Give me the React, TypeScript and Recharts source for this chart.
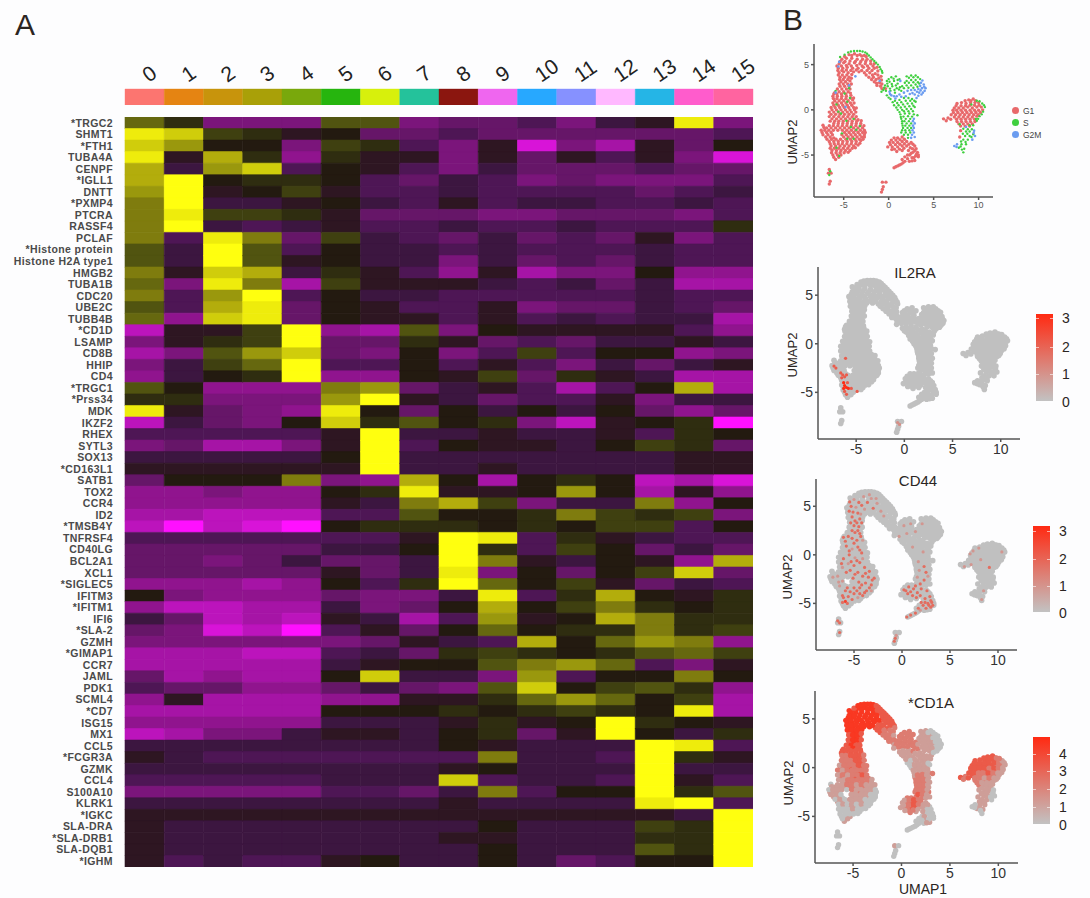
import * as React from 'react';
import { Bar, BarChart, Cell, Legend, Scatter, ScatterChart, XAxis, YAxis } from 'recharts';

const SANS = '"Liberation Sans", Arial, sans-serif';

// heatmap
const clusters = ['0', '1', '2', '3', '4', '5', '6', '7', '8', '9', '10', '11', '12', '13', '14', '15'];
const clusterColors = ['#fc7570', '#e58412', '#c8940c', '#a9a008', '#79a80c', '#26b50e', '#d7f00c', '#24c29b', '#8b160f', '#ef66ef', '#27a8ff', '#8691ff', '#ffb8ff', '#25b5e6', '#ff5ccc', '#ff64a0'];
const genes = ['*TRGC2', 'SHMT1', '*FTH1', 'TUBA4A', 'CENPF', '*IGLL1', 'DNTT', '*PXMP4', 'PTCRA', 'RASSF4', 'PCLAF', '*Histone protein', 'Histone H2A type1', 'HMGB2', 'TUBA1B', 'CDC20', 'UBE2C', 'TUBB4B', '*CD1D', 'LSAMP', 'CD8B', 'HHIP', 'CD4', '*TRGC1', '*Prss34', 'MDK', 'IKZF2', 'RHEX', 'SYTL3', 'SOX13', '*CD163L1', 'SATB1', 'TOX2', 'CCR4', 'ID2', '*TMSB4Y', 'TNFRSF4', 'CD40LG', 'BCL2A1', 'XCL1', '*SIGLEC5', 'IFITM3', '*IFITM1', 'IFI6', '*SLA-2', 'GZMH', '*GIMAP1', 'CCR7', 'JAML', 'PDK1', 'SCML4', '*CD7', 'ISG15', 'MX1', 'CCL5', '*FCGR3A', 'GZMK', 'CCL4', 'S100A10', 'KLRK1', '*IGKC', 'SLA-DRA', '*SLA-DRB1', 'SLA-DQB1', '*IGHM'];
// -10 (magenta) .. 0 (black) .. 10 (yellow)
const expression = [
  [4, 1, -5, -5, -5, 3, 3, -5, -4, -4, -3, -5, -2, -1, 9, -5],
  [9, 8, 2, 1, -1, 0, -4, -4, -3, -4, -4, -4, -4, -4, -4, -3],
  [8, 6, 0, 0, -5, 2, 1, -3, -5, -1, -9, -5, -7, -1, -4, 0],
  [9, -1, 7, 1, -6, 1, -1, -1, -5, -1, -4, -1, -3, -1, -5, -9],
  [7, -2, 6, 8, -3, 0, -1, -3, -5, -2, -4, -4, -4, -3, -4, -4],
  [7, 10, 0, 1, 1, 0, -3, -4, -2, -3, -5, -4, -5, -5, -5, -3],
  [6, 10, -1, 0, 2, -1, -3, -3, -2, -3, -3, -3, -3, -4, -3, -2],
  [5, 10, -2, -2, -1, 0, -2, -3, -1, -3, -2, -2, -3, -3, -2, -3],
  [5, 9, 2, 2, 1, -1, -4, -4, -4, -5, -5, -4, -4, -4, -5, -3],
  [5, 10, -2, -3, -2, -1, -3, -3, -2, -3, -3, -2, -3, -3, -3, 1],
  [5, -3, 9, 5, -4, 2, -2, -3, -4, -2, -4, -3, -4, -1, -5, -3],
  [3, -2, 10, 3, -3, 0, -2, -2, -3, -2, -3, -3, -3, -2, -3, -3],
  [3, -2, 10, 3, -1, 0, -2, -2, -5, -2, -4, -3, -4, -2, -3, -3],
  [5, -1, 8, 7, -2, 1, -1, -3, -6, -1, -7, -5, -5, 0, -6, -6],
  [4, -5, 9, 5, -7, 2, -1, -1, -1, -2, -3, -2, -4, -2, -7, -7],
  [5, -3, 6, 10, -3, 0, -2, -2, -3, -3, -3, -3, -3, -2, -3, -3],
  [3, -3, 7, 9, -4, 0, -1, -3, -3, -1, -5, -4, -4, -2, -3, -4],
  [4, -6, 8, 9, -4, 0, -1, -1, -3, -1, -3, -2, -3, -2, -2, -7],
  [-8, -1, -1, 2, 10, -6, -7, 3, -5, 0, -1, -1, -1, -1, -3, -6],
  [-5, -1, 1, 2, 10, -4, -4, 1, -1, -4, -3, -4, -2, -2, -1, -2],
  [-7, -5, 3, 6, 8, -4, -5, 0, -5, -3, 2, -3, 0, 0, -6, -5],
  [-5, -2, 2, 4, 10, -3, -3, 0, -3, -1, -3, -5, -2, -4, -2, -1],
  [-6, -2, 0, 1, 10, -6, -6, 0, -1, 2, -4, 1, -1, -2, -7, -7],
  [3, 0, -6, -6, -6, 5, 6, -4, -2, -1, -3, -7, -3, 0, 7, -7],
  [1, 1, -5, -5, -5, 6, 10, -1, -2, -4, -3, -3, -1, -5, -2, -2],
  [9, -1, -4, -5, -6, 9, 0, -4, 0, -2, 0, -2, 0, -4, -6, -4],
  [-8, -2, -4, -5, 0, 8, 1, 3, 0, 1, -5, -8, -1, 0, 1, -10],
  [-3, -3, -3, -3, -3, -1, 10, -2, -2, -1, -2, -2, -1, -3, 1, 0],
  [-5, -4, -7, -7, -5, -1, 10, -3, 0, -1, -1, -2, 0, 2, 1, -4],
  [-2, -2, -2, -2, -2, 0, 10, -2, -2, -2, -2, -2, -2, -2, -1, -1],
  [-1, -1, -1, -1, -1, -1, 10, -2, -2, -1, -2, -2, -2, -2, -1, -1],
  [-4, 0, 0, 0, 5, -5, -6, 7, 0, -7, 0, 1, 0, -8, -7, -9],
  [-6, -6, -5, -6, -6, 0, 1, 9, -1, -1, 0, 6, 0, -7, -1, -6],
  [-6, -6, -6, -6, -6, -1, -2, 5, 7, 2, -5, -2, -2, 5, -6, 0],
  [-7, -7, -8, -8, -8, -3, -3, 3, 0, 0, 1, 5, 2, 1, 2, -5],
  [-8, -10, -8, -9, -10, 0, 1, 1, 1, 0, 1, 0, 2, 2, -3, 0],
  [-3, -3, -3, -3, -3, -3, -3, -1, 10, 9, -3, 1, -1, -2, -3, -3],
  [-4, -4, -4, -4, -4, -2, -2, 0, 10, 1, -3, 2, 0, -4, -2, -4],
  [-4, -4, -5, -4, -2, -4, -4, -2, 10, 5, -1, -2, 0, -1, -6, 7],
  [-4, -4, -4, -4, -4, -1, -4, -2, 9, -5, 0, -4, 0, 2, 8, -4],
  [-6, -6, -6, -7, -6, 0, -3, 1, 10, 4, 0, 2, -1, -4, -2, -3],
  [0, -5, -6, -6, -6, -4, -5, -5, -2, 9, -3, 1, 7, 0, -1, 1],
  [-6, -8, -8, -7, -7, -2, -5, -4, 0, 7, 0, 2, 5, 1, 0, 1],
  [-2, -4, -8, -7, -8, -1, -2, -7, -3, 6, -1, 0, 7, 5, 1, 1],
  [-4, -5, -9, -8, -10, -3, -1, -4, 0, 4, 0, 1, 1, 5, 1, 2],
  [-5, -5, -5, -5, -5, -5, -4, -1, -2, -3, 7, 0, 4, 6, 5, -6],
  [-7, -7, -7, -8, -8, -3, -2, -4, 1, 2, 1, 0, 1, 3, 4, 2],
  [-7, -7, -7, -7, -7, -2, -1, 0, 0, 3, 5, 6, 4, -3, -5, -1],
  [-4, -7, -6, -7, -7, 0, 8, -2, -2, -5, 6, -3, 0, 0, 5, 0],
  [-3, -4, -4, -6, -6, -4, -2, -4, -5, 3, 8, 0, 2, 3, 1, -6],
  [-6, -1, -7, -7, -7, -6, -6, -1, -1, 1, 4, 6, 4, 0, 2, -7],
  [-7, -7, -7, -7, -7, 0, 0, 0, 1, 0, 1, 2, 1, 0, 9, -7],
  [-6, -6, -6, -6, -6, -2, -2, -2, -1, 1, -1, 0, 10, 1, 0, -1],
  [-8, -7, -5, -5, -2, -1, -1, -2, 0, 1, -4, -1, 10, 0, -2, 1],
  [-2, -2, -2, -2, -2, -2, -2, -2, 0, -1, -2, -2, -2, 10, 9, -3],
  [-1, -2, -3, -3, -3, -3, -3, -3, -3, 5, -2, -2, -3, 10, 1, -1],
  [-2, -2, -2, -2, -2, -2, -2, -2, -1, 0, -2, -2, -2, 10, -2, -2],
  [-3, -3, -3, -3, -3, -2, -2, -2, 8, -3, -2, -2, -3, 10, -1, -3],
  [-5, -5, -5, -5, -5, -3, -3, -4, -2, 5, -3, 0, 0, 10, 1, 3],
  [-2, -2, -2, -2, -2, -2, -2, -2, -1, -2, -2, -2, -2, 9, 10, -3],
  [-1, -1, -1, -1, -1, -1, -1, -1, -1, -1, -1, -1, -1, -1, -2, 10],
  [-1, -2, -2, -2, -2, -2, -2, -2, -2, 0, -2, -2, -2, 2, 1, 10],
  [-1, -2, -2, -2, -2, -2, -2, -2, -1, -1, -2, -2, -2, 1, 1, 10],
  [-1, -2, -2, -2, -2, -2, -2, -2, -2, 0, -2, -2, -2, 3, 1, 10],
  [-1, -3, -2, -3, -3, -1, 0, -2, -2, 0, -2, -4, -3, 0, 0, 10],
];
const magentaRamp = ['#231a10', '#2e1622', '#3c1640', '#4e1655', '#661668', '#7b157b', '#90148e', '#a614a6', '#bc14bc', '#d814d8', '#ff10ff'];
const yellowRamp = ['#231a10', '#2f2d10', '#3f4010', '#515410', '#66680f', '#7f7c0e', '#9a980d', '#b3ad0c', '#d0cd0b', '#eeec0c', '#ffff0f'];

// UMAP cells, grouped by region: [umap1, umap2, *CD1A level]
const arcBody = [[-4.4, 6.1, 4], [-3.8, 6.2, 4], [-3.2, 6.1, 4], [-2.7, 6, 4], [-5.2, 5.6, 4], [-4.7, 5.7, 4], [-4.1, 5.7, 4], [-3.5, 5.6, 4], [-2.9, 5.6, 4], [-2.4, 5.6, 3], [-5.5, 5.1, 4], [-5, 5.2, 4], [-4.4, 5.1, 4], [-3.8, 5.2, 4], [-3.2, 5.1, 4], [-2.6, 5.1, 4], [-2, 5.1, 3], [-5.6, 4.6, 4], [-5.1, 4.6, 4], [-4.6, 4.7, 4], [-4, 4.6, 4], [-3.4, 4.6, 4], [-2.8, 4.7, 4], [-2.2, 4.6, 3], [-1.6, 4.6, 3], [-5.5, 4.1, 4], [-5, 4.2, 4], [-4.5, 4.1, 4], [-3.9, 4.2, 4], [-3.3, 4.2, 4], [-2.7, 4.1, 3], [-2.1, 4.1, 3], [-1.5, 4, 3], [-5.4, 3.6, 3], [-4.9, 3.6, 4], [-4.4, 3.6, 4], [-2.2, 3.6, 3], [-1.7, 3.6, 2], [-1.1, 3.5, 2], [-5.3, 3.1, 3], [-4.8, 3.1, 4], [-4.3, 3.2, 3], [-1.6, 3.1, 2], [-1, 3, 2], [-5.4, 2.6, 3], [-4.9, 2.6, 4], [-4.4, 2.6, 3], [-0.9, 2.6, 2], [-1.3, 2.7, 2]];
const arcFill = [[-4.9, 5.9, 4], [-4.1, 6, 4], [-3.5, 6, 4], [-3, 5.95, 4], [-2.5, 5.9, 3], [-5.4, 5.35, 4], [-4.85, 5.35, 4], [-4.3, 5.4, 4], [-3.7, 5.35, 4], [-3.1, 5.35, 4], [-2.55, 5.35, 4], [-2, 5.4, 3], [-1.6, 5.1, 3], [-5.75, 4.85, 4], [-5.25, 4.85, 4], [-4.7, 4.9, 4], [-4.15, 4.85, 4], [-3.55, 4.9, 4], [-2.95, 4.85, 4], [-2.35, 4.85, 4], [-1.75, 4.85, 3], [-1.3, 4.7, 3], [-5.65, 4.35, 4], [-5.2, 4.35, 4], [-4.7, 4.4, 4], [-4.2, 4.35, 4], [-3.6, 4.4, 4], [-3, 4.35, 4], [-2.4, 4.35, 3], [-1.85, 4.35, 3], [-1.2, 4.3, 3], [-5.6, 3.85, 4], [-5.15, 3.85, 4], [-4.65, 3.85, 4], [-4.1, 3.9, 4], [-2.5, 3.85, 3], [-1.8, 3.85, 2], [-1.2, 3.85, 2], [-0.85, 3.7, 2], [-5.45, 3.35, 3], [-5.05, 3.35, 4], [-4.55, 3.35, 4], [-4.15, 3.5, 3], [-1.9, 3.35, 2], [-1.4, 3.35, 2], [-0.8, 3.3, 1], [-5.5, 2.85, 3], [-5.05, 2.85, 4], [-4.55, 2.85, 4], [-4.15, 2.85, 3], [-1.35, 2.95, 2], [-0.75, 2.85, 2], [-5.7, 2.3, 3], [-5.2, 2.3, 4], [-4.7, 2.3, 3], [-4.3, 2.3, 3], [-0.75, 2.35, 1], [-0.35, 2.35, 2]];
const arcRim = [[-5.4, 5.85, 4], [-4.9, 6.1, 3], [-4.5, 6.35, 4], [-4.2, 6.45, 4], [-3.85, 6.5, 4], [-3.5, 6.5, 4], [-3.2, 6.5, 4], [-2.9, 6.45, 4], [-2.6, 6.35, 3], [-2.4, 6.2, 3], [-2.2, 6, 3], [-2, 5.8, 3], [-1.8, 5.6, 3], [-1.6, 5.4, 3], [-1.4, 5.2, 3], [-1.2, 5, 3], [-1, 4.75, 3], [-0.9, 4.5, 3], [-0.75, 4.3, 3], [-0.7, 4.1, 2]];
const leftBody = [[-6, 1.9, 3], [-5.5, 2, 3], [-5, 2, 4], [-4.5, 2, 3], [-6.2, 1.5, 3], [-5.7, 1.5, 3], [-5.2, 1.5, 3], [-4.7, 1.5, 3], [-4.2, 1.6, 3], [-6, 1, 2], [-5.5, 1, 2], [-5, 1, 3], [-4.5, 1, 3], [-4, 1.1, 2], [-6.1, 0.5, 2], [-5.6, 0.5, 2], [-5.1, 0.5, 2], [-4.6, 0.5, 3], [-4.1, 0.5, 3], [-6.3, 0, 2], [-5.8, 0, 2], [-5.3, 0, 3], [-4.8, 0, 2], [-4.3, 0, 3], [-3.8, 0, 2], [-6.4, -0.5, 1], [-5.9, -0.5, 2], [-5.4, -0.5, 2], [-4.9, -0.5, 2], [-4.4, -0.5, 3], [-3.9, -0.5, 2], [-6.3, -1, 2], [-5.8, -1, 1], [-5.3, -1, 2], [-4.8, -1, 3], [-4.3, -1, 2], [-3.8, -1, 2], [-3.4, -1.1, 2], [-6.1, -1.5, 1], [-5.6, -1.5, 2], [-5.1, -1.5, 2], [-4.6, -1.5, 2], [-4.1, -1.5, 2], [-3.6, -1.5, 2], [-3.1, -1.5, 1], [-7.3, -1.7, 0], [-6.9, -2, 1], [-6.4, -2, 1], [-5.9, -2, 1], [-5.4, -2, 2], [-4.9, -2, 2], [-4.4, -2, 1], [-3.9, -2, 2], [-3.4, -2, 1], [-2.9, -2, 1], [-7.4, -2.5, 1], [-6.9, -2.5, 1], [-6.4, -2.5, 1], [-4.9, -2.5, 1], [-4.4, -2.5, 2], [-3.9, -2.5, 1], [-3.4, -2.5, 1], [-2.9, -2.5, 0], [-2.6, -2.5, 0], [-7, -3, 1], [-6.5, -3, 1], [-6.1, -3.1, 0], [-5, -3, 1], [-4.5, -3, 1], [-4, -3, 1], [-3.5, -3, 1], [-3, -3, 0], [-2.7, -3, 0], [-6.6, -3.5, 1], [-6.1, -3.5, 1], [-5.6, -3.5, 0], [-5.1, -3.5, 1], [-4.6, -3.5, 1], [-4.1, -3.5, 1], [-3.6, -3.5, 0], [-3.1, -3.4, 0], [-6.4, -4, 0], [-5.9, -4, 0], [-5.4, -4, 1], [-4.9, -4, 1], [-4.4, -4, 0], [-3.9, -4, 0], [-3.4, -3.9, 0], [-6.3, -4.5, 0], [-5.8, -4.5, 0], [-5.3, -4.5, 0], [-4.8, -4.5, 0], [-4.3, -4.5, 0], [-6.2, -5, 0], [-5.7, -5, 0], [-5.3, -5, 1], [-5.9, -5.5, 1]];
const leftFill = [[-6.1, 1.75, 3], [-5.75, 1.75, 3], [-5.25, 1.75, 3], [-4.75, 1.75, 3], [-4.25, 1.85, 3], [-6.15, 1.25, 2], [-5.75, 1.25, 2], [-5.25, 1.25, 3], [-4.75, 1.25, 3], [-4.25, 1.3, 3], [-3.9, 1.3, 2], [-6.2, 0.75, 2], [-5.75, 0.75, 2], [-5.25, 0.75, 2], [-4.75, 0.75, 3], [-4.25, 0.75, 3], [-3.85, 0.75, 2], [-6.4, 0.25, 1], [-5.95, 0.25, 2], [-5.45, 0.25, 2], [-4.95, 0.25, 2], [-4.45, 0.25, 3], [-3.9, 0.25, 2], [-3.6, 0.2, 2], [-6.6, -0.25, 2], [-6.1, -0.25, 1], [-5.6, -0.25, 2], [-5.1, -0.25, 2], [-4.6, -0.25, 2], [-4.15, -0.25, 2], [-3.65, -0.25, 2], [-6.6, -0.75, 1], [-6.1, -0.75, 2], [-5.55, -0.75, 1], [-5.05, -0.75, 2], [-4.55, -0.75, 2], [-4.05, -0.75, 3], [-3.6, -0.75, 2], [-6.5, -1.25, 1], [-6, -1.25, 1], [-5.55, -1.25, 2], [-5.05, -1.25, 2], [-4.55, -1.25, 2], [-4.05, -1.25, 2], [-3.55, -1.25, 2], [-3.05, -1.2, 1], [-7.2, -1.95, 1], [-6.6, -1.75, 1], [-6.15, -1.75, 1], [-5.65, -1.75, 2], [-5.15, -1.75, 2], [-4.65, -1.75, 1], [-4.15, -1.75, 2], [-3.65, -1.75, 1], [-3.15, -1.75, 1], [-2.75, -1.75, 1], [-7.5, -2.25, 0], [-7.1, -2.25, 1], [-6.65, -2.25, 1], [-6.15, -2.25, 1], [-5.65, -2.25, 0], [-5.15, -2.25, 2], [-4.65, -2.25, 1], [-4.15, -2.25, 1], [-3.65, -2.25, 1], [-3.15, -2.25, 1], [-2.7, -2.25, 0], [-7.3, -2.75, 1], [-6.75, -2.75, 1], [-6.25, -2.75, 0], [-5.2, -2.75, 1], [-4.7, -2.75, 1], [-4.2, -2.75, 1], [-3.7, -2.75, 1], [-3.2, -2.75, 0], [-2.7, -2.75, 0], [-6.85, -3.25, 0], [-6.35, -3.25, 1], [-5.85, -3.25, 0], [-5.35, -3.25, 1], [-4.75, -3.25, 1], [-4.25, -3.25, 1], [-3.75, -3.25, 0], [-3.25, -3.25, 0], [-2.85, -3.25, 0], [-6.5, -3.75, 0], [-6.05, -3.75, 1], [-5.6, -3.75, 0], [-5.15, -3.75, 1], [-4.65, -3.75, 0], [-4.15, -3.75, 1], [-3.65, -3.75, 0], [-3.2, -3.7, 0], [-6.5, -4.25, 0], [-6.05, -4.25, 0], [-5.55, -4.25, 0], [-5.05, -4.25, 1], [-4.55, -4.25, 0], [-4.05, -4.25, 0], [-3.7, -4.2, 0], [-6.35, -4.75, 0], [-5.85, -4.75, 0], [-5.4, -4.75, 0], [-4.95, -4.75, 0], [-4.5, -4.7, 0], [-6.1, -5.25, 0], [-5.55, -5.25, 1]];
const lowerLeft = [[0.1, -3.6, 1], [0.6, -3.1, 2], [0.5, -3.6, 2], [0.4, -4.1, 2], [1, -3.1, 2], [1, -3.6, 3], [1, -4.1, 3], [0.9, -4.6, 2], [1.5, -3, 2], [1.5, -3.5, 3], [1.5, -4, 3], [1.5, -4.5, 1], [2, -3.5, 2], [2, -4, 1], [-0.1, -4.1, 1], [0.3, -3.35, 1], [0.8, -3.35, 2], [1.25, -3.3, 3], [1.75, -3.25, 2], [0.2, -3.85, 1], [0.75, -3.85, 2], [1.25, -3.8, 3], [1.75, -3.75, 2], [0.65, -4.35, 2], [1.2, -4.35, 2], [1.7, -4.25, 1], [0.35, -4.4, 1]];
const lowerRight = [[2.5, -3.6, 1], [2.9, -4, 0], [2.4, -4.2, 1], [2.9, -4.5, 0], [3.2, -4.7, 0], [2.5, -4.8, 0], [3, -5.1, 0], [3.3, -5.2, 0], [2.6, -5.3, 1], [2.1, -5, 0], [2.9, -5.6, 1], [2.3, -5.7, 0], [1.8, -5.7, 0], [1.4, -6, 0], [1, -6.2, 0], [0.6, -6.4, 0], [1.8, -5.2, 0], [2.25, -3.8, 1], [2.7, -3.8, 1], [2.65, -4.3, 0], [3.05, -4.3, 0], [2.2, -4.5, 1], [2.7, -4.7, 0], [3.1, -4.9, 0], [2.35, -5, 1], [2.8, -5.3, 0], [2.1, -5.4, 0], [2.6, -5.65, 1], [1.6, -5.85, 0], [1.2, -6.1, 0], [0.8, -6.3, 0], [1.5, -5.5, 0], [3.3, -5, 0]];
const midLobe = [[-0.2, 3.2, 2], [0.3, 3.6, 2], [0.8, 3.7, 2], [1.2, 3.4, 2], [-0.4, 2.7, 2], [0.1, 3.1, 2], [0.6, 3.2, 2], [1, 2.9, 2], [1.5, 2.6, 2], [-0.6, 2.2, 2], [-0.1, 2.6, 2], [0.4, 2.6, 2], [0.9, 2.4, 2], [1.4, 2.1, 2], [-0.3, 2.1, 2], [0.2, 2.1, 2], [0.7, 1.9, 1], [0, 3.4, 2], [0.55, 3.45, 2], [1, 3.3, 2], [-0.15, 2.9, 2], [0.35, 2.85, 2], [0.8, 2.7, 2], [1.25, 2.5, 2], [-0.5, 2.45, 2], [0.15, 2.35, 2], [0.65, 2.2, 2], [1.15, 2.25, 2], [-0.8, 2, 1], [1.7, 2.4, 1], [1.8, 3, 1]];
const midLobeG2M = [[0.3, 1.6, 1], [0.6, 1.5, 1], [0.9, 1.5, 1], [1.2, 1.7, 2], [1.7, 1.9, 2], [2.1, 2.1, 1], [1.9, 1.5, 1], [0.15, 1.75, 1], [0.75, 1.25, 1], [1.4, 1.45, 1], [2.35, 1.75, 1]];
const rightLobe = [[2, 3.7, 1], [2.5, 3.8, 1], [3, 3.8, 0], [2, 3.2, 1], [2.5, 3.3, 1], [3, 3.3, 1], [3.5, 3.4, 0], [2, 2.7, 1], [2.5, 2.7, 1], [3, 2.8, 1], [3.4, 2.9, 0], [2.25, 3.55, 1], [2.75, 3.6, 0], [3.25, 3.6, 0], [2.25, 3, 1], [2.75, 3.05, 1], [3.25, 3.05, 0], [2.2, 2.45, 1], [2.75, 2.45, 1], [3.2, 2.55, 1]];
const rightLobeG2M = [[3.6, 3, 0], [3.9, 2.8, 0], [4.1, 2.4, 0], [3.7, 2.4, 0], [3.3, 2.3, 1], [3.8, 1.9, 0], [3.4, 1.9, 0], [2.9, 2.2, 1], [2.9, 1.7, 1], [2.5, 2.2, 1], [3.1, 1.3, 1], [4, 2.1, 0], [3.75, 3.25, 0], [3.95, 2.55, 0], [3.5, 2.65, 0], [3.55, 2.15, 0], [3.15, 2, 1], [3.65, 1.7, 0], [3.3, 1.55, 0], [2.65, 1.85, 1]];
const bridge = [[-0.2, 1.6, 1], [0.2, 1.2, 1], [0.7, 1, 1], [1.2, 1.1, 1], [1.7, 1.3, 1], [2.2, 1.3, 1], [2.6, 1.2, 1], [0.6, 0.5, 0], [1.1, 0.5, 1], [1.6, 0.6, 1], [2.1, 0.7, 1], [2.6, 0.7, 1], [3, 0.9, 1], [1, 0, 0], [1.5, 0, 1], [2, 0.1, 1], [2.5, 0.1, 1], [2.9, 0.3, 0], [0, 1.35, 1], [0.45, 0.85, 1], [0.95, 0.75, 0], [1.4, 0.85, 1], [1.9, 1, 1], [2.4, 1, 1], [2.85, 1, 1], [0.85, 0.25, 0], [1.35, 0.25, 1], [1.8, 0.35, 1], [2.3, 0.4, 1], [2.75, 0.45, 0], [1.2, -0.25, 1], [1.7, -0.15, 1], [2.2, -0.15, 1], [2.7, -0.15, 1]];
const stem = [[1.3, -0.5, 1], [1.8, -0.4, 1], [2.3, -0.4, 1], [2.8, -0.5, 1], [3.2, -0.6, 2], [1.4, -1, 2], [1.9, -1, 2], [2.4, -1, 2], [1.5, -1.5, 2], [2, -1.5, 2], [2.5, -1.5, 2], [1.6, -2, 2], [2.1, -2, 2], [2.5, -2, 2], [1.4, -2.5, 2], [1.9, -2.5, 2], [2.4, -2.5, 2], [1.35, -0.8, 1], [1.65, -0.75, 2], [2.15, -0.7, 2], [2.6, -0.75, 1], [1.5, -1.25, 2], [1.75, -1.25, 2], [2.25, -1.25, 2], [1.55, -1.75, 2], [1.85, -1.75, 2], [2.3, -1.75, 2], [1.5, -2.25, 2], [1.85, -2.25, 2], [2.3, -2.25, 2], [1.7, -2.75, 3], [2.15, -2.75, 2], [2.15, -3.1, 2]];
const stemG2M = [[2.8, -1, 1], [2.9, -1.5, 1], [2.8, -2, 1], [2.8, -2.5, 2], [2.9, -3, 1], [2.5, -3.1, 1], [2.7, -1.25, 1], [2.7, -1.75, 1], [2.65, -2.25, 1], [2.6, -2.75, 1]];
const islandBody = [[8.9, 1.1, 3], [9.4, 1.2, 3], [7.6, 0.7, 3], [8.1, 0.8, 3], [8.6, 0.7, 3], [9.1, 0.8, 3], [9.6, 0.8, 3], [10, 0.8, 2], [7.3, 0.2, 3], [7.8, 0.2, 3], [8.3, 0.2, 3], [8.8, 0.3, 3], [9.3, 0.2, 3], [9.8, 0.3, 2], [10.3, 0.3, 2], [7.2, -0.3, 3], [7.7, -0.3, 3], [8.2, -0.3, 2], [8.7, -0.3, 3], [9.2, -0.3, 2], [9.7, -0.3, 2], [10.2, -0.3, 1], [6.6, -0.9, 2], [7.3, -0.8, 3], [7.8, -0.8, 2], [8.3, -0.8, 2], [8.8, -0.8, 2], [9.3, -0.8, 2], [9.8, -0.7, 2], [6.1, -1, 3], [6.4, -1.2, 2], [7.6, -1.3, 2], [8.1, -1.3, 1], [8.6, -1.3, 2], [9.1, -1.3, 2], [9.6, -1.3, 1], [8, -1.8, 2], [8.5, -1.8, 1], [9, -1.8, 1], [8, -2.3, 1], [7.9, -3, 1], [8.5, 1, 3], [9.15, 1, 3], [9.65, 1, 3], [7.5, 0.45, 3], [8.05, 0.45, 3], [8.55, 0.45, 3], [9.05, 0.5, 3], [9.55, 0.5, 3], [10.05, 0.5, 2], [7.15, -0.05, 3], [7.55, -0.05, 3], [8.05, -0.05, 3], [8.55, -0.05, 3], [9.05, -0.05, 2], [9.55, -0.05, 3], [10, -0.05, 2], [10.45, 0, 1], [6.95, -0.55, 3], [7.45, -0.55, 3], [7.95, -0.55, 2], [8.45, -0.55, 2], [8.95, -0.55, 3], [9.45, -0.55, 2], [9.95, -0.55, 1], [6.9, -1.05, 3], [7.55, -1.05, 2], [8.05, -1.05, 2], [8.55, -1.05, 1], [9.05, -1.05, 2], [9.55, -1.05, 1], [7.8, -1.55, 2], [8.3, -1.55, 1], [8.8, -1.55, 1], [9.3, -1.55, 1]];
const islandRim = [[9.8, 1, 2], [10.4, 0.7, 1], [10.7, 0.3, 1], [10.5, -0.2, 1], [10.1, -0.7, 1], [9.8, -1.2, 1], [9.4, -1.7, 1], [10.1, 0.95, 2], [10.6, 0.5, 1], [10.35, -0.5, 1], [9.95, -1, 1]];
const islandTail = [[8.6, -2.4, 1], [9, -2.4, 1], [8.5, -2.9, 1], [9, -2.9, 1], [9.4, -2.7, 0], [8.3, -3.3, 1], [8.8, -3.3, 1], [8.1, -3.8, 1], [8.6, -3.8, 1], [7.8, -4.2, 1], [8.4, -4.3, 1], [8.3, -4.7, 0], [8.3, -2.1, 1], [8.8, -2.15, 1], [9.25, -2.15, 1], [8.25, -2.65, 1], [8.75, -2.65, 1], [9.2, -3, 0], [8.05, -3.5, 1], [8.55, -3.55, 1], [8, -4.05, 1], [8.15, -4.4, 0]];
const islandTailG2M = [[9.5, -2.3, 0], [9.6, -2.9, 0], [9.3, -3.3, 0], [7.3, -4, 0], [7.6, -3.8, 0], [7.55, -4.1, 0], [9.45, -2.55, 0]];
const tinyClumps = [[-6.6, -6.6, 0], [-6.7, -7, 0], [-6.4, -7, 0], [-6.5, -7.9, 0], [-6.6, -8.2, 0], [-0.7, -8.8, 0], [-0.8, -9.1, 0], [-0.6, -8.5, 0], [-0.7, -8, 1], [-0.3, -8, 0]];
// S and G2M cells mixed into the G1 mass of the first panel
const strayS = [[-5.8, 0.6], [-5.3, -0.4], [-4.6, 0.9], [-4.9, 1.8], [-4.3, 1.3], [-5.9, 2.1], [-4.7, -1.2], [-4.2, -1.9], [-3.6, -2.2], [-3.2, -1.8], [-5.2, -2.6], [-4.6, -3.2], [-3.9, -3.2], [-5.8, -4.2], [-5.5, -5.1], [-5.6, -0.2], [-6.5, -6.8], [-6.6, -7.2], [-3.9, -1], [-4.4, 2.4], [7.9, -1.6], [9.2, 0.6], [9.7, -1], [9, -1.7]];
const strayG2M = [[-5.6, 4.8], [-5.5, 5.3], [-4.4, 2.7], [-3.7, 3.7], [-5.9, 1.9], [-1, 3.2], [-4.8, 0.3], [8.6, -1.9], [1.3, 3.2], [0.1, 2]];

const g1Cells = [...arcBody, ...arcFill, ...leftBody, ...leftFill, ...lowerLeft, ...lowerRight, ...islandBody, ...tinyClumps];
const sCells = [...arcRim, ...midLobe, ...rightLobe, ...bridge, ...stem, ...islandRim, ...islandTail, ...strayS];
const g2mCells = [...midLobeG2M, ...rightLobeG2M, ...stemG2M, ...islandTailG2M, ...strayG2M];
const allCells = [...arcBody, ...arcFill, ...arcRim, ...leftBody, ...leftFill, ...lowerLeft, ...lowerRight, ...midLobe, ...midLobeG2M, ...rightLobe, ...rightLobeG2M, ...bridge, ...stem, ...stemG2M, ...islandBody, ...islandRim, ...islandTail, ...islandTailG2M, ...tinyClumps];

// cells lit up per gene: [umap1, umap2, level]
const il2raHits = [[-7.3, -2.3, 2], [-7.1, -2.5, 2], [-6.6, -3, 2], [-6.4, -3.2, 2], [-6.2, -3.4, 2], [-6.5, -3.5, 2], [-6.3, -4, 3], [-6.2, -4.3, 3], [-6, -4.5, 3], [-6.3, -4.6, 3], [-5.8, -4.6, 3], [-5.5, -4.6, 2], [-6.2, -4.9, 2], [-6, -5.2, 2], [-5.9, -4, 2], [-4.9, -4.9, 2], [-6.1, -1.5, 2], [-6, -3.2, 2], [-0.7, -8.1, 1], [-0.5, -8.3, 1]];
const cd44Hits = [[-5, 5.7, 1], [-4.5, 5.4, 2], [-4, 6, 1], [-3.6, 5.4, 2], [-3.2, 5.8, 1], [-5.3, 5, 2], [-4.8, 4.9, 1], [-3.9, 4.7, 1], [-3, 4.8, 2], [-2.6, 5.3, 1], [-5.1, 4.4, 2], [-4.6, 4.3, 2], [-5.2, 3.9, 2], [-4.9, 3.5, 2], [-4.4, 3.7, 2], [-5, 3, 2], [-4.5, 2.9, 2], [-4.2, 3.3, 2], [-2.2, 4.5, 1], [-1.9, 4, 1], [-4.9, 2.3, 2], [-4.4, 2.2, 2], [-5.6, 1.9, 2], [-5.2, 1.7, 2], [-4.7, 1.5, 2], [-6.1, 1.8, 2], [-4.1, 1.5, 1], [-5.8, 0.9, 2], [-5.2, 0.6, 1], [-4.6, 0.8, 2], [-4.2, 0.2, 2], [-5.5, 0, 2], [-4.9, -0.3, 1], [-6.1, -0.4, 2], [-5.6, -0.9, 1], [-5, -1.1, 2], [-4.4, -0.8, 2], [-3.9, -1.3, 2], [-3.4, -1.7, 2], [-6.2, -1.3, 1], [-5.4, -1.6, 2], [-4.6, -1.8, 2], [-4.1, -2.2, 2], [-3.5, -2.3, 2], [-2.9, -2.4, 2], [-7.2, -2.3, 1], [-6.7, -2.2, 1], [-6.2, -2.7, 1], [-5.1, -2.4, 2], [-4.5, -2.8, 2], [-3.8, -2.9, 2], [-3.2, -3.1, 2], [-6.5, -3.2, 1], [-5.7, -3.4, 2], [-5, -3.4, 2], [-4.4, -3.4, 2], [-3.7, -3.7, 2], [-3.2, -3.7, 1], [-6.2, -4.2, 2], [-5.9, -4.8, 3], [-6.1, -4.4, 2], [-5.6, -4.3, 2], [-5, -4, 2], [-4.6, -4.4, 1], [-4.1, -4.2, 2], [-5.7, -5, 2], [-6.2, -4.9, 2], [0.2, 3, 1], [0.9, 3.2, 1], [1.4, 2.4, 1], [0.5, 2.2, 1], [2.1, 3.2, 1], [-0.3, 1.9, 1], [1.1, 0.8, 1], [2.2, 0.3, 1], [1.7, -0.7, 1], [2.3, -1.2, 2], [1.8, -1.6, 1], [2.5, -1.8, 2], [1.6, -2.3, 1], [2.3, -2.6, 2], [2.7, -2.2, 1], [1.9, -3, 2], [0.2, -3.6, 2], [0.7, -3.3, 2], [1.2, -3.5, 2], [0.6, -4, 2], [1.1, -4.2, 2], [1.6, -3.9, 2], [2, -3.5, 2], [1.5, -4.4, 2], [2.6, -3.7, 2], [2.9, -4.3, 2], [2.4, -4.5, 2], [3.1, -4.9, 2], [2.7, -5, 2], [2.2, -5.2, 2], [3, -5.4, 2], [2.5, -5.5, 2], [1.9, -5.7, 1], [1.4, -6, 2], [0.9, -6.2, 2], [0.5, -6.4, 2], [2, -4.9, 2], [3.2, -5.2, 2], [7.1, 0.1, 1], [7.4, 0.4, 1], [7.2, -1, 1], [6.5, -1.2, 1], [8.2, -0.5, 1], [9.1, -1.3, 2], [10.4, 0.3, 1], [8, 0.7, 1], [8.5, -3.7, 1], [8.3, -4.6, 1], [-6.7, -6.8, 2], [-6.5, -7, 2], [-6.5, -8, 2], [-0.7, -8.6, 2], [-0.8, -8.9, 2], [-0.6, -8.3, 1], [-5.45, 5.45, 2], [-4.2, 5.1, 2], [-3.4, 6.2, 1], [-2.7, 5.8, 1], [-5.5, 4.5, 2], [-4.3, 4.2, 1], [-5.35, 3.3, 2], [-4.7, 3.3, 2], [-5.2, 2.5, 2], [-4.6, 2.5, 2], [-4.3, 1.9, 2], [-5.9, 1.4, 2], [-5, 1.2, 2], [-5.5, 0.4, 2], [-4.4, 0.5, 2], [-6.3, -0.9, 2], [-5.3, -0.7, 2], [-4.7, -0.6, 2], [-4.1, -0.4, 1], [-5.8, -1.8, 2], [-4.9, -2, 2], [-3.8, -1.9, 2], [-3.1, -2.6, 2], [-4.2, -3.1, 2], [-3.4, -3.4, 2], [-4.7, -3.7, 2], [-5.4, -3.8, 2], [-4.4, -4, 2], [-3.9, -3.9, 2], [-5.2, -4.6, 2], [-5.9, -3.7, 2], [-6.6, -2.8, 1], [0.4, -3.7, 2], [0.9, -3.8, 2], [1.4, -3.2, 2], [1.9, -4.2, 2], [3, -4.7, 2], [2.4, -4.9, 2], [2.8, -5.2, 2], [1.7, -5.5, 2]];

const phaseNames = ['G1', 'S', 'G2M'];
const phaseColors = ['#e8696b', '#3fcf3f', '#6b9cf0'];
const xTicks = [-5, 0, 5, 10];
const yTicks = [-5, 0, 5];

const heatRows = genes.map((gene) => {
  const row: any = { gene };
  clusters.forEach((_, c) => { row[`c${c}`] = 1; });
  return row;
});
const bandRow = [clusters.reduce((row: any, _, c) => { row[`c${c}`] = 1; return row; }, { name: 'cluster' })];

const heatColor = (v: number) => (v < 0 ? magentaRamp[-v] : yellowRamp[v]);

const exprColor = (level: number, max: number) => {
  const t = Math.min(level / max, 1);
  const mix = (a: number, b: number) => Math.round(a + (b - a) * t);
  return `rgb(${mix(192, 255)},${mix(192, 42)},${mix(192, 18)})`;
};

const toPoints = (cells: number[][], max = 3) => cells.map(([x, y, level = 0]) => ({ x, y, level, color: exprColor(level, max) }));

const dot = (r: number) => (p: any) => <circle cx={p.cx} cy={p.cy} r={r} fill={p.payload.color || p.fill} />;

function ClusterTick({ x, y, payload }: any) {
  const px = x + 4;
  const py = y + 2;
  return (
    <text x={px} y={py} transform={`rotate(-35 ${px} ${py})`} fontSize={21} fontFamily={SANS} fill='#222'>
      {clusters[Math.floor(payload.value)]}
    </text>
  );
}

function GeneTick({ x, y, payload }: any) {
  return (
    <text x={x} y={y} dy={3.8} textAnchor='end' fontSize={10.5} fontWeight={700} fontFamily={SANS} fill='#4a4a4a' style={{ letterSpacing: '0.4px' }}>
      {payload.value}
    </text>
  );
}

function Caption({ x, y, size, rotate = 0, color = '#2b2522', children }: any) {
  return (
    <div
      style={{
        position: 'absolute',
        left: x,
        top: y,
        transform: `translate(-50%, -50%) rotate(${rotate}deg)`,
        fontFamily: SANS,
        fontSize: size,
        color,
        whiteSpace: 'nowrap',
        lineHeight: 1,
      }}
    >
      {children}
    </div>
  );
}

function ColorBar({ left, top, width, height, labels }: any) {
  return (
    <>
      <div style={{ position: 'absolute', left, top, width, height, background: 'linear-gradient(to top, #c2c2c2, #ff2a12)' }} />
      {labels.map(([text, y]: any) => (
        <React.Fragment key={text}>
          <div style={{ position: 'absolute', left, top: y, width: 3, height: 1, background: 'rgba(255,255,255,0.6)' }} />
          <div style={{ position: 'absolute', left: left + width - 3, top: y, width: 3, height: 1, background: 'rgba(255,255,255,0.6)' }} />
          <Caption x={left + width + 13} y={y} size={14}>{text}</Caption>
        </React.Fragment>
      ))}
    </>
  );
}

function Umap({ plot, domainX, domainY, fontSize = 14, tickColor = '#333', children, right = 2, legend = false }: any) {
  const chartLeft = 780;
  const yWidth = 30;
  return (
    <div style={{ position: 'absolute', left: chartLeft, top: plot.top }}>
      <ScatterChart
        width={plot.right - chartLeft + right}
        height={plot.bottom - plot.top + 26}
        margin={{ top: 0, right, bottom: 0, left: plot.left - chartLeft - yWidth }}
      >
        <XAxis type='number' dataKey='x' domain={domainX} ticks={xTicks} height={26} allowDataOverflow stroke='#555' strokeWidth={1.5} tick={{ fontSize, fill: tickColor, fontFamily: SANS }} tickSize={3} />
        <YAxis type='number' dataKey='y' domain={domainY} ticks={yTicks} width={yWidth} allowDataOverflow stroke='#555' strokeWidth={1.5} tick={{ fontSize, fill: tickColor, fontFamily: SANS }} tickSize={3} />
        {children}
        {legend && (
          <Legend
            layout='vertical'
            iconType='circle'
            iconSize={7}
            itemSorter={null}
            wrapperStyle={{ left: 232, top: 60, width: 60, bottom: 'auto', lineHeight: '9px' }}
            formatter={(value) => <span style={{ color: '#444', fontSize: 8.5, fontFamily: SANS }}>{value}</span>}
          />
        )}
      </ScatterChart>
    </div>
  );
}

export default function App() {
  const il2ra = toPoints(il2raHits);
  const cd44 = toPoints(cd44Hits, 3.6);
  const grey = toPoints(allCells.map(([x, y]) => [x, y, 0]));
  const cd1a = toPoints(allCells, 4.4);

  return (
    <div style={{ position: 'absolute', left: 0, top: 0, width: 1090, height: 898, background: '#fdfdfe', overflow: 'hidden' }}>
      <Caption x={25} y={25} size={30}>A</Caption>
      <Caption x={793} y={20} size={30}>B</Caption>

      {/* cluster numbers and colour band */}
      <div style={{ position: 'absolute', left: 0, top: 45 }}>
        <BarChart width={800} height={60} layout='vertical' data={bandRow} barCategoryGap={0} margin={{ top: 0, right: 47, bottom: 0, left: 125 }}>
          <XAxis type='number' orientation='top' domain={[0, 16]} ticks={clusters.map((_, c) => c + 0.5)} height={44} axisLine={false} tickLine={false} tick={<ClusterTick />} interval={0} />
          <YAxis type='category' dataKey='name' hide />
          {clusters.map((_, c) => (
            <Bar key={c} dataKey={`c${c}`} stackId='band' fill={clusterColors[c]} stroke={clusterColors[c]} strokeWidth={0.4} isAnimationActive={false} />
          ))}
        </BarChart>
      </div>

      {/* heatmap */}
      <div style={{ position: 'absolute', left: 0, top: 117 }}>
        <BarChart width={753} height={750} layout='vertical' data={heatRows} barCategoryGap={0} margin={{ top: 0, right: 0, bottom: 0, left: 0 }}>
          <XAxis type='number' domain={[0, 16]} hide />
          <YAxis type='category' dataKey='gene' width={125} interval={0} axisLine={false} tickLine={false} tickMargin={6} tick={<GeneTick />} />
          {clusters.map((_, c) => (
            <Bar key={c} dataKey={`c${c}`} stackId='heat' isAnimationActive={false}>
              {expression.map((row, r) => (
                <Cell key={r} fill={heatColor(row[c])} stroke={heatColor(row[c])} strokeWidth={0.6} />
              ))}
            </Bar>
          ))}
        </BarChart>
      </div>

      {/* cell cycle */}
      <Umap plot={{ left: 814, top: 44, right: 993, bottom: 233 }} domainX={[-8.3, 11.6]} domainY={[-9.64, 7.28]} fontSize={9} tickColor='#555' right={97} legend>
        <Scatter name={phaseNames[0]} data={toPoints(g1Cells).map((p) => ({ ...p, color: phaseColors[0] }))} fill={phaseColors[0]} shape={dot(1.7)} isAnimationActive={false} />
        <Scatter name={phaseNames[1]} data={toPoints(sCells).map((p) => ({ ...p, color: phaseColors[1] }))} fill={phaseColors[1]} shape={dot(1.2)} isAnimationActive={false} />
        <Scatter name={phaseNames[2]} data={toPoints(g2mCells).map((p) => ({ ...p, color: phaseColors[2] }))} fill={phaseColors[2]} shape={dot(1.3)} isAnimationActive={false} />
      </Umap>
      <Caption x={792} y={142} size={13} rotate={-90}>UMAP2</Caption>

      {/* IL2RA */}
      <Umap plot={{ left: 818, top: 267, right: 1020, bottom: 439 }} domainX={[-8.96, 12]} domainY={[-9.8, 7.9]}>
        <Scatter data={grey} fill='#c0c0c0' shape={dot(2.8)} isAnimationActive={false} />
        <Scatter data={il2ra} fill='#e8503a' shape={dot(1.6)} isAnimationActive={false} />
      </Umap>
      <Caption x={915} y={272} size={15}>IL2RA</Caption>
      <Caption x={792} y={355} size={13} rotate={-90}>UMAP2</Caption>
      <ColorBar left={1036} top={314} width={17} height={87} labels={[['3', 318], ['2', 347], ['1', 374], ['0', 402]]} />

      {/* CD44 */}
      <Umap plot={{ left: 816, top: 479, right: 1017, bottom: 650 }} domainX={[-8.96, 11.98]} domainY={[-9.8, 7.81]}>
        <Scatter data={grey} fill='#c0c0c0' shape={dot(2.8)} isAnimationActive={false} />
        <Scatter data={cd44} fill='#e8503a' shape={dot(1.6)} isAnimationActive={false} />
      </Umap>
      <Caption x={918} y={480} size={15}>CD44</Caption>
      <Caption x={787} y={577} size={13} rotate={-90}>UMAP2</Caption>
      <ColorBar left={1033} top={526} width={17} height={86} labels={[['3', 531], ['2', 559], ['1', 586], ['0', 613]]} />

      {/* CD1A */}
      <Umap plot={{ left: 815, top: 691, right: 1018, bottom: 863 }} domainX={[-8.93, 12.03]} domainY={[-9.78, 7.86]}>
        <Scatter data={cd1a} fill='#e8503a' shape={dot(2.7)} isAnimationActive={false} />
      </Umap>
      <Caption x={931} y={702} size={15}>*CD1A</Caption>
      <Caption x={788} y={783} size={13} rotate={-90}>UMAP2</Caption>
      <Caption x={923} y={889} size={14}>UMAP1</Caption>
      <ColorBar left={1033} top={737} width={17} height={87} labels={[['4', 754], ['3', 771], ['2', 789], ['1', 807], ['0', 825]]} />
    </div>
  );
}
